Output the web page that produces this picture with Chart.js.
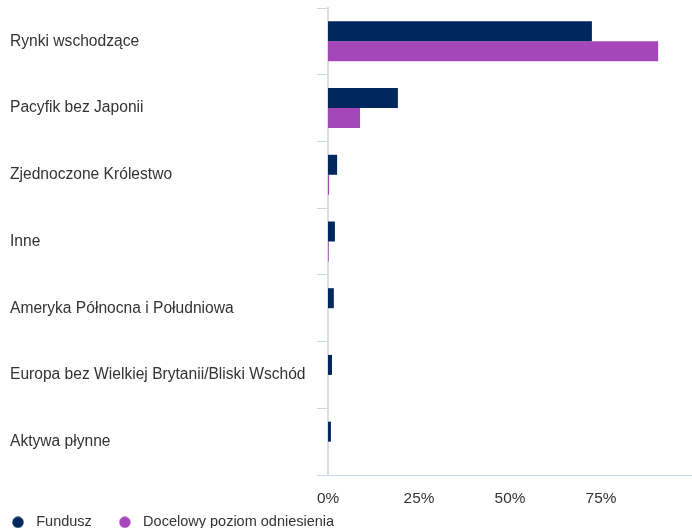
<!DOCTYPE html>
<html>
<head>
<meta charset="utf-8">
<script src="https://cdn.jsdelivr.net/npm/chart.js@4"></script>
<style>
  html, body { margin: 0; padding: 0; background: #fff; overflow: hidden; }
  #wrap { width: 692px; height: 568px; }
</style>
</head>
<body>
<div id="wrap"><canvas id="myChart"></canvas></div>
<script>
// dati
const categorie = [
  'Rynki wschodzące',
  'Pacyfik bez Japonii',
  'Zjednoczone Królestwo',
  'Inne',
  'Ameryka Północna i Południowa',
  'Europa bez Wielkiej Brytanii/Bliski Wschód',
  'Aktywa płynne'
];
const fundusz = [72.5, 19.2, 2.5, 1.9, 1.6, 1.1, 0.8];
const docelowy = [90.7, 8.8, 0.3, 0.2, 0, 0, 0];
const tickX = [0, 25, 50, 75];

const colori = ['#00285f', '#a547b9'];
const testo = '#333';
const famiglia = 'Arial, "Liberation Sans", sans-serif';

// pallino della legenda
function pallino(col) {
  const c = document.createElement('canvas');
  c.width = 12; c.height = 12;
  const g = c.getContext('2d');
  g.fillStyle = col;
  g.beginPath();
  g.arc(6, 6, 5.7, 0, Math.PI * 2);
  g.fill();
  return c;
}
const pallini = colori.map(pallino);

// sposta la legenda (a sinistra e sotto il grafico)
const spostaLegenda = {
  id: 'spostaLegenda',
  afterLayout(chart) {
    const lg = chart.legend;
    const h = lg.bottom - lg.top;
    lg.left = -15;
    lg.top = chart.chartArea.bottom + 18;
    lg.bottom = lg.top + h;
  }
};

const ctx = document.getElementById('myChart');

new Chart(ctx, {
  type: 'bar',
  data: {
    labels: categorie,
    datasets: [{
      label: 'Fundusz',
      data: fundusz,
      backgroundColor: colori[0],
      borderWidth: 0
    }, {
      label: 'Docelowy poziom odniesienia',
      data: docelowy,
      backgroundColor: colori[1],
      borderWidth: 0
    }]
  },
  options: {
    indexAxis: 'y',
    responsive: true,
    maintainAspectRatio: false,
    animation: false,
    layout: { padding: { left: 10, top: 8, right: 0, bottom: 0 } },
    datasets: { bar: { categoryPercentage: 0.6, barPercentage: 1 } },
    plugins: {
      tooltip: { enabled: false },
      legend: {
        position: 'bottom',
        align: 'start',
        labels: {
          usePointStyle: true,
          pointStyleWidth: 22,
          boxHeight: 12,
          color: testo,
          padding: 22,
          font: { family: famiglia, size: 14.5 },
          generateLabels: (chart) => {
            const items = Chart.defaults.plugins.legend.labels.generateLabels(chart);
            items.forEach((it, i) => { it.pointStyle = pallini[i]; });
            return items;
          }
        }
      }
    },
    scales: {
      x: {
        min: 0,
        max: 100,
        afterBuildTicks: (s) => { s.ticks = tickX.map(v => ({ value: v })); },
        grid: { display: false, drawTicks: false },
        border: { color: '#c9d6ee', width: 1 },
        ticks: {
          padding: 14,
          color: testo,
          font: { family: famiglia, size: 15.4 },
          callback: (v) => v + '%'
        }
      },
      y: {
        afterFit: (s) => {
          s.width = 318;
          s.paddingTop = 0;
          s.paddingBottom = 0;
        },
        grid: {
          offset: true,
          drawOnChartArea: false,
          tickLength: 11,
          color: '#c9d6ee'
        },
        border: { color: '#dddddd', width: 2 },
        ticks: {
          crossAlign: 'far',
          color: testo,
          font: { family: famiglia, size: 15.6 }
        }
      }
    }
  },
  plugins: [spostaLegenda]
});
</script>
</body>
</html>
